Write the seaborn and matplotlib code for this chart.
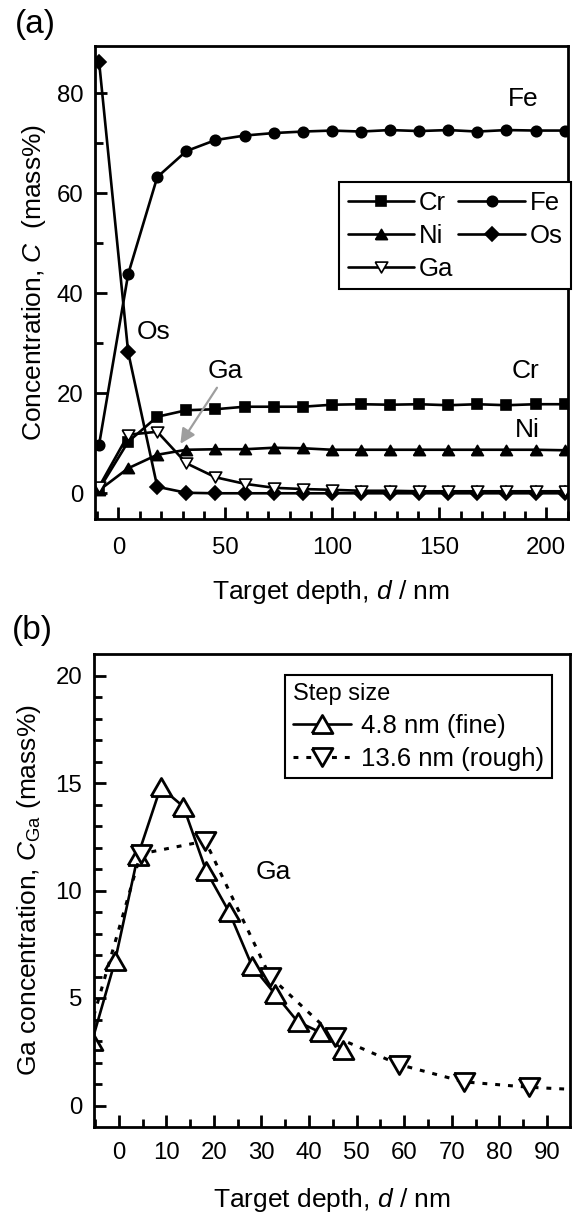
import numpy as np
import matplotlib
matplotlib.use("Agg")
import matplotlib.pyplot as plt
import seaborn as sns

# --- data: (a) depth profile, 13.6 nm steps ---
depth_rough = [-9.0, 4.6, 18.2, 31.8, 45.4, 59.0, 72.6, 86.2, 99.8, 113.4,
               127.0, 140.6, 154.2, 167.8, 181.4, 195.0, 208.6]
cr = [0.8, 10.3, 15.3, 16.6, 16.8, 17.3, 17.3, 17.3, 17.7, 17.8,
      17.7, 17.8, 17.6, 17.8, 17.6, 17.8, 17.8]
fe = [9.7, 43.8, 63.2, 68.4, 70.6, 71.5, 72.0, 72.3, 72.5, 72.3,
      72.6, 72.4, 72.6, 72.3, 72.6, 72.5, 72.5]
ni = [0.6, 5.0, 7.7, 8.7, 8.8, 8.8, 9.1, 9.0, 8.7, 8.7,
      8.7, 8.7, 8.7, 8.7, 8.7, 8.7, 8.6]
os_ = [86.3, 28.2, 1.3, 0.1, 0.0, 0.0, 0.0, 0.0, 0.0, 0.0,
       0.0, 0.0, 0.0, 0.0, 0.0, 0.0, 0.0]
ga_rough = [1.3, 11.7, 12.3, 6.0, 3.2, 1.9, 1.1, 0.85, 0.7, 0.5,
            0.5, 0.4, 0.4, 0.4, 0.4, 0.4, 0.4]

# --- data: (b) fine step 4.8 nm ---
depth_fine = [-5.6, -0.8, 4.0, 8.8, 13.6, 18.4, 23.2, 28.0, 32.8, 37.6, 42.4, 47.2]
ga_fine = [3.0, 6.7, 11.6, 14.8, 13.9, 10.9, 9.0, 6.5, 5.2, 3.9, 3.4, 2.6]
n_rough_b = 8  # rough points shown in (b)

sns.set_style("ticks")
plt.rcParams['font.family'] = ['Liberation Sans', 'DejaVu Sans']
plt.rcParams['mathtext.fontset'] = 'custom'
plt.rcParams['mathtext.rm'] = 'Liberation Sans'
plt.rcParams['mathtext.it'] = 'Liberation Sans:italic'
for k in ['text.color', 'axes.labelcolor', 'xtick.color', 'ytick.color', 'axes.edgecolor']:
    plt.rcParams[k] = 'black'

tri_up = [(-1, -0.866), (1, -0.866), (0, 0.866), (-1, -0.866)]
tri_dn = [(-1, 0.866), (1, 0.866), (0, -0.866), (-1, 0.866)]

fig = plt.figure(figsize=(5.77, 12.13), dpi=100)
W, H = 577, 1213
ax1 = fig.add_axes([95 / W, 1 - 519.3 / H, (567.7 - 95) / W, (519.3 - 46) / H])
ax2 = fig.add_axes([94 / W, 1 - 1127 / H, (569.8 - 94) / W, (1127 - 654) / H])

lw = 1.9
common = dict(color='black', linewidth=lw, markeredgecolor='black', markeredgewidth=1.2)
sns.lineplot(x=depth_rough, y=cr, ax=ax1, marker='s', markersize=7, label='Cr', **common)
sns.lineplot(x=depth_rough, y=ni, ax=ax1, marker=tri_up, markersize=8.5, label='Ni', **common)
sns.lineplot(x=depth_rough, y=fe, ax=ax1, marker='o', markersize=7.5, label='Fe', **common)
sns.lineplot(x=depth_rough, y=os_, ax=ax1, marker='D', markersize=7, label='Os', **common)
sns.lineplot(x=depth_rough, y=ga_rough, ax=ax1, marker=tri_dn, markersize=9,
             markerfacecolor='white', label='Ga', **common)

ax1.set_xlim(-10.9, 210)
ax1.set_ylim(-5.2, 89.4)
ax1.set_xticks([0, 50, 100, 150, 200])
ax1.set_xticks(np.arange(-10, 211, 10), minor=True)
ax1.set_yticks([0, 20, 40, 60, 80])
ax1.set_yticks(np.arange(0, 90, 10), minor=True)
ax1.set_xlabel('Target depth, $\\it{d}$ / nm', fontsize=19, labelpad=14)
ax1.set_ylabel('Concentration, $\\it{C}$  (mass%)', fontsize=19, labelpad=6)

handles, labels = ax1.get_legend_handles_labels()
order = [labels.index(k) for k in ['Cr', 'Ni', 'Ga', 'Fe', 'Os']]
leg1 = ax1.legend([handles[i] for i in order], [labels[i] for i in order],
                  ncol=2, loc='upper left', bbox_to_anchor=(0.517, 0.712),
                  fontsize=18.5, handlelength=2.6, handletextpad=0.17,
                  columnspacing=0.2, labelspacing=0.36, borderpad=0.32,
                  borderaxespad=0, fancybox=False, framealpha=1, edgecolor='black')
leg1.get_frame().set_linewidth(1.5)

ax1.text(189.4, 78.9, 'Fe', fontsize=19, ha='center', va='center')
ax1.text(16.7, 32.2, 'Os', fontsize=19, ha='center', va='center')
ax1.text(190.2, 24.5, 'Cr', fontsize=19, ha='center', va='center')
ax1.text(191, 12.6, 'Ni', fontsize=19, ha='center', va='center')
ax1.text(49.8, 24.5, 'Ga', fontsize=19, ha='center', va='center')
ax1.annotate('', xy=(29, 9.9), xytext=(46.1, 21.1),
             arrowprops=dict(arrowstyle='-|>', color='0.62', lw=1.6, mutation_scale=22,
                             shrinkA=0, shrinkB=0))

# (b)
sns.lineplot(x=depth_fine, y=ga_fine, ax=ax2, color='black', linewidth=lw,
             marker=tri_up, markersize=15, markerfacecolor='white',
             markeredgecolor='black', markeredgewidth=2, label='4.8 nm (fine)')
sns.lineplot(x=depth_rough[:n_rough_b + 1], y=ga_rough[:n_rough_b + 1], ax=ax2,
             color='black', linewidth=2.2, linestyle=(0, (1.6, 2.6)),
             marker=tri_dn, markersize=15, markerfacecolor='white',
             markeredgecolor='black', markeredgewidth=2, label='13.6 nm (rough)')

ax2.set_xlim(-5.2, 94.8)
ax2.set_ylim(-1, 21)
ax2.set_xticks(np.arange(0, 91, 10))
ax2.set_xticks(np.arange(-5, 95, 5), minor=True)
ax2.set_yticks([0, 5, 10, 15, 20])
ax2.set_yticks(np.arange(0, 21, 1), minor=True)
ax2.set_xlabel('Target depth, $\\it{d}$ / nm', fontsize=19, labelpad=16)
ax2.set_ylabel('Ga concentration, $\\it{C}_{\\mathrm{Ga}}$ (mass%)', fontsize=19, labelpad=9)
leg2 = ax2.legend(title='Step size', loc='upper left', bbox_to_anchor=(0.401, 0.9556),
                  fontsize=18.5, title_fontsize=17, handlelength=2.27,
                  handletextpad=0.39, labelspacing=0.35, borderpad=0.3,
                  borderaxespad=0, fancybox=False, framealpha=1, edgecolor='black',
                  alignment='left')
leg2.get_frame().set_linewidth(1.5)
ax2.text(32.4, 10.85, 'Ga', fontsize=19, ha='center', va='center')

for ax, xpad in ((ax1, 12.5), (ax2, 10.6)):
    for s in ax.spines.values():
        s.set_linewidth(2)
        s.set_visible(True)
    ax.tick_params(which='both', direction='in', width=2, top=False, right=False,
                   labelsize=17.3)
    ax.tick_params(which='major', length=8.6)
    ax.tick_params(which='minor', length=5.5)
    ax.tick_params(axis='x', which='both', pad=xpad)
    ax.tick_params(axis='y', which='both', pad=8.4)

fig.text(35 / W, 1 - 25 / H, '(a)', fontsize=24, ha='center', va='center')
fig.text(32.5 / W, 1 - 631 / H, '(b)', fontsize=24, ha='center', va='center')

fig.savefig('out.png', dpi=100)
